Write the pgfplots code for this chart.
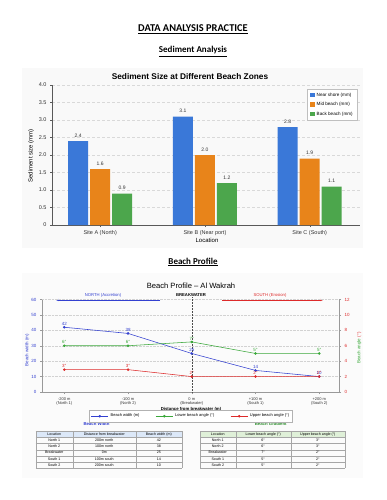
\documentclass[border=0pt]{standalone}
\usepackage{fontspec}
\setmainfont{Liberation Sans}
\newfontfamily\headfont{Carlito}
\usepackage{pgfplots}
\pgfplotsset{compat=1.18}
\usetikzlibrary{arrows.meta}
\definecolor{cblue}{HTML}{3A78D8}
\definecolor{corange}{HTML}{E8841A}
\definecolor{cgreen}{HTML}{4CA64C}
\definecolor{pblue}{HTML}{3340D0}
\definecolor{pgreen}{HTML}{3AA83A}
\definecolor{pred}{HTML}{DD2A2A}
\definecolor{tblue}{HTML}{DCE8F8}
\definecolor{tgreen}{HTML}{DFF0D8}
\newcommand{\fs}[1]{\fontsize{#1}{#1}\selectfont}
\begin{document}
\begin{tikzpicture}
\begin{scope}[x=1pt,y=1pt]
\path[use as bounding box] (0,0) rectangle (386,-500);
\fill[black!2.5] (22,-68) rectangle (363,-248);
\fill[black!1.5] (22,-273) rectangle (363,-478);
\node[font=\headfont\bfseries\fs{10.4}] at (193,-29.5) {\underline{DATA ANALYSIS PRACTICE}};
\node[font=\headfont\bfseries\fs{9}] at (193,-51.5) {\underline{Sediment Analysis}};
\node[font=\headfont\bfseries\fs{9}] at (193,-262) {\underline{Beach Profile}};
% chart 1 texts
\node[font=\bfseries\fs{8.3}] at (190,-76.5) {Sediment Size at Different Beach Zones};
\node[font=\fs{6}, rotate=90] at (31,-156) {Sediment size (mm)};
\node[font=\fs{6}] at (207,-240) {Location};
% chart 2 texts
\node[font=\fs{7.6}] at (191,-285.3) {Beach Profile -- Al Wakrah};
\node[font=\fs{4.2}, text=pblue] at (103,-295.3) {NORTH (Accretion)};
\node[font=\bfseries\fs{4.2}] at (191,-295.3) {BREAKWATER};
\node[font=\fs{4.2}, text=pred] at (270,-295.3) {SOUTH (Erosion)};
\draw[pblue, line width=0.45pt, -{Stealth[length=2.5pt,width=2pt]}] (160,-300) -- (56,-300);
\draw[pred, line width=0.45pt, -{Stealth[length=2.5pt,width=2pt]}] (222,-300) -- (323,-300);
\node[font=\fs{4.5}, rotate=90, text=pblue] at (27.3,-350) {Beach width (m)};
\node[font=\fs{4.5}, rotate=90] at (359.3,-348) {\textcolor{pgreen}{Beach angle} \textcolor{pred}{(°)}};
\node[font=\bfseries\fs{4.3}] at (191,-409) {Distance from breakwater (m)};
% tables
\node[font=\bfseries\fs{4.3}, text=pblue] at (96.5,-424) {Beach Width};
\node[font=\bfseries\fs{4.3}, text=pgreen!85!black] at (270.7,-424) {Beach Gradient};
\fill[tblue] (35.7,-431) rectangle (181.7,-437.5);
\fill[tgreen] (200,-431) rectangle (345,-437.5);
\foreach \xa/\xb in {35.7/181.7, 200/345}{
  \foreach \yy in {-431,-437.5,-443.6,-449.7,-455.8,-461.9,-468}
    \draw[gray!70, line width=0.3pt] (\xa,\yy) -- (\xb,\yy);
}
\foreach \xx in {35.7,72.7,136,181.7,200,235.7,290.7,345}
  \draw[gray!70, line width=0.3pt] (\xx,-431) -- (\xx,-468);
\begin{scope}[every node/.style={font=\fs{3.6}}]
\node at (54.2,-434.3) {Location};
\node at (104.3,-434.3) {Distance from breakwater};
\node at (158.8,-434.3) {Beach width (m)};
\node at (217.8,-434.3) {Location};
\node at (263.2,-434.3) {Lower beach angle (°)};
\node at (317.8,-434.3) {Upper beach angle (°)};
\foreach \pa/\pb/\pc/\pd/\pe [count=\i] in {North 1/200m north/42/6°/3°, North 2/100m north/38/6°/3°, Breakwater/0m/25/7°/2°, South 1/100m south/14/5°/2°, South 2/200m south/10/5°/2°}{
  \pgfmathsetmacro\yy{-437.5-6.08*\i+3.04}
  \node at (54.2,\yy) {\pa};
  \node at (104.3,\yy) {\pb};
  \node at (158.8,\yy) {\pc};
  \node at (217.8,\yy) {\pa};
  \node at (263.2,\yy) {\pd};
  \node at (317.8,\yy) {\pe};
}
\end{scope}
\end{scope}
% ---------------- chart 1 ----------------
\begin{axis}[at={(52pt,-225pt)}, anchor=south west, scale only axis,
  width=308pt, height=140pt,
  ybar=2pt, bar width=20pt,
  xmin=-0.46, xmax=2.48, ymin=0, ymax=4,
  xtick={0,1,2}, xticklabels={Site A (North),Site B (Near port),Site C (South)},
  ytick={0,0.5,...,4}, yticklabels={0,0.5,1.0,1.5,2.0,2.5,3.0,3.5,4.0},
  axis x line*=bottom, axis y line*=left,
  axis line style={gray!70!black, line width=0.5pt},
  tick style={gray!70!black, line width=0.4pt}, major tick length=2pt, tick align=outside,
  ymajorgrids, grid style={densely dashed, gray!30, line width=0.3pt},
  tick label style={font=\fs{5.5}, text=black!80},
  nodes near coords, nodes near coords style={font=\fs{5}, text=black!80,
    /pgf/number format/assume math mode=true,
    /pgf/number format/fixed, /pgf/number format/fixed zerofill, /pgf/number format/precision=1},
  legend style={at={(0.99,0.973)}, anchor=north east, font=\fs{4.6}, draw=gray!50,
    row sep=0.6pt, inner sep=2pt, legend cell align=left},
  legend image code/.code={\fill[#1] (0pt,-2pt) rectangle (5pt,2.5pt);},
  ]
\addplot[fill=cblue, draw=none] coordinates {(0,2.4) (1,3.1) (2,2.8)};
\addplot[fill=corange, draw=none] coordinates {(0,1.6) (1,2.0) (2,1.9)};
\addplot[fill=cgreen, draw=none] coordinates {(0,0.9) (1,1.2) (2,1.1)};
\legend{Near shore (mm),Mid beach (mm),Back beach (mm)}
\end{axis}
% ---------------- chart 2 ----------------
\begin{axis}[at={(42pt,-392pt)}, anchor=south west, scale only axis,
  width=297pt, height=92.5pt,
  xmin=-235, xmax=231, ymin=0, ymax=60,
  xtick={-200,-100,0,100,200},
  xticklabels={{-200 m\\(North 1)},{-100 m\\(North 2)},{0 m\\(Breakwater)},{+100 m\\(South 1)},{+200 m\\(South 2)}},
  xticklabel style={align=center, font=\fs{4}, text=black!80},
  ytick={0,10,...,60}, yticklabel style={font=\fs{4.5}, text=pblue},
  /pgf/number format/assume math mode=true,
  axis x line*=bottom, axis y line*=left,
  axis line style={gray!80, line width=0.6pt},
  tick style={gray!80, line width=0.4pt}, major tick length=2pt, tick align=outside,
  ymajorgrids, grid style={densely dotted, gray!35, line width=0.3pt},
  clip=false,
  ]
\draw[densely dotted, black!70, line width=0.5pt] (axis cs:0,0) -- (axis cs:0,62);
\addplot[pblue, line width=0.55pt, mark=*, mark size=1pt,
  nodes near coords, point meta=explicit symbolic,
  nodes near coords style={font=\fs{4.5}, text=pblue, inner sep=1.5pt}]
  table[x=x, y=y, meta=l] {
x y l
-200 42 42
-100 38 38
0 25 25
100 14 14
200 10 10
};
\end{axis}
\begin{axis}[at={(42pt,-392pt)}, anchor=south west, scale only axis,
  width=297pt, height=92.5pt,
  xmin=-235, xmax=231, ymin=0, ymax=12,
  axis x line=none, axis y line*=right,
  ytick={0,2,...,12}, yticklabel style={font=\fs{4.5}, text=pred},
  /pgf/number format/assume math mode=true,
  axis line style={gray!80, line width=0.6pt},
  tick style={gray!80, line width=0.4pt}, major tick length=2pt, tick align=outside,
  clip=false,
  legend style={at={(0.502,-0.262)}, anchor=center, font=\fs{4}, draw=gray!60,
    legend columns=3, /tikz/every even column/.append style={column sep=14pt},
    inner sep=1.5pt},
  ]
\addlegendimage{pblue, line width=0.55pt, mark=*, mark size=1pt}
\addlegendentry{Beach width (m)}
\addplot[pgreen, line width=0.55pt, mark=*, mark size=1pt,
  nodes near coords, point meta=explicit symbolic,
  nodes near coords style={font=\fs{4.5}, text=pgreen, inner sep=1.5pt}]
  table[x=x, y=y, meta=l] {
x y l
-200 6 6°
-100 6 6°
0 6.5 7°
100 5 5°
200 5 5°
};
\addlegendentry{Lower beach angle (°)}
\addplot[pred, line width=0.55pt, mark=*, mark size=1pt,
  nodes near coords, point meta=explicit symbolic,
  nodes near coords style={font=\fs{4.5}, text=pred, inner sep=1.5pt}]
  table[x=x, y=y, meta=l] {
x y l
-200 2.9 3°
-100 2.9 3°
0 2 2°
100 2 2°
200 2 2°
};
\addlegendentry{Upper beach angle (°)}
\end{axis}
\end{tikzpicture}
\end{document}
